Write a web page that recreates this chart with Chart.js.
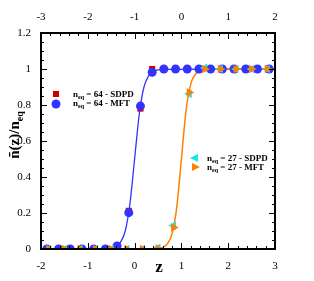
<!DOCTYPE html>
<html>
<head>
<meta charset="utf-8">
<script src="https://cdn.jsdelivr.net/npm/chart.js@4/dist/chart.umd.min.js"></script>
<style>
  html, body { margin: 0; padding: 0; background: #ffffff; }
  #wrap { width: 314px; height: 281px; }
</style>
</head>
<body>
<div id="wrap"><canvas id="chart" width="314" height="281"></canvas></div>
<script>

// n_eq = 64 samples (spacing 1/4)
const z64 = [-1.875, -1.625, -1.375, -1.125, -0.875, -0.625, -0.375, -0.125, 0.125, 0.375,
             0.625, 0.875, 1.125, 1.375, 1.625, 1.875, 2.125, 2.375, 2.625, 2.875];
const sdpd64 = [0, 0, 0, 0, 0, 0, 0.008, 0.212, 0.78, 1.0,
                1, 1, 1, 1, 1, 1, 1, 1, 1, 1];
const mft64 = [0, 0, 0, 0, 0, 0, 0.017, 0.202, 0.794, 0.982,
               1, 1, 1, 1, 1, 1, 1, 1, 1, 1];

// n_eq = 27 samples (spacing 1/3)
const z27 = [-1.833, -1.5, -1.167, -0.833, -0.5, -0.167, 0.167, 0.5, 0.833, 1.167,
             1.5, 1.833, 2.167, 2.5, 2.833];
const sdpd27 = [0, 0, 0, 0, 0, 0, 0, 0.006, 0.13, 0.862, 1.006, 1, 1, 1, 1];
const mft27 = [0, 0, 0, 0, 0, 0, 0, 0.003, 0.12, 0.87, 1, 1, 1, 1, 1];

// fitted profiles
const curve64X = [-2, -0.6, -0.5, -0.4, -0.3, -0.2, -0.1, 0, 0.1, 0.2, 0.3, 0.4, 0.5, 0.6, 3];
const curve64Y = [0, 0.002, 0.005, 0.013, 0.038, 0.1, 0.25, 0.5, 0.75, 0.9, 0.962, 0.987, 0.995, 0.998, 1];
const curve27X = [-2, 0.4, 0.5, 0.6, 0.7, 0.8, 0.9, 1.0, 1.1, 1.2, 1.3, 1.4, 1.5, 3];
const curve27Y = [0, 0.001, 0.003, 0.009, 0.029, 0.084, 0.23, 0.5, 0.77, 0.916, 0.971, 0.991, 0.997, 1];

const legendLabels = ["64 - SDPD", "64 - MFT", "27 - SDPD", "27 - MFT"];

const BLUE = "#3333ff";
const RED = "#cc0000";
const ORANGE = "#ff8000";
const CYAN = "#22e0e8";
const SERIF = "'Liberation Serif', 'DejaVu Serif', serif";

function pts(xs, ys) {
    return xs.map((x, i) => ({ x: x, y: ys[i] }));
}

function isMajor(v, step) {
    const r = v / step;
    return Math.abs(r - Math.round(r)) < 1e-6;
}

// inward tick marks, frame, titles and legends
const decorations = {
    id: "decorations",
    afterDatasetsDraw(chart) {
        const ctx = chart.ctx;
        const a = chart.chartArea;
        const xb = chart.scales.x;
        const xt = chart.scales.xTop;
        const y = chart.scales.y;

        ctx.save();
        ctx.strokeStyle = "#000000";
        ctx.lineWidth = 1;

        xb.ticks.forEach(t => {
            const px = Math.round(xb.getPixelForValue(t.value)) + 0.5;
            const len = isMajor(t.value, 1) ? 6 : 3;
            ctx.beginPath();
            ctx.moveTo(px, a.bottom);
            ctx.lineTo(px, a.bottom - len);
            ctx.stroke();
        });
        xt.ticks.forEach(t => {
            const px = Math.round(xt.getPixelForValue(t.value)) + 0.5;
            const len = isMajor(t.value, 1) ? 6 : 3;
            ctx.beginPath();
            ctx.moveTo(px, a.top);
            ctx.lineTo(px, a.top + len);
            ctx.stroke();
        });
        y.ticks.forEach(t => {
            const py = Math.round(y.getPixelForValue(t.value)) + 0.5;
            const len = isMajor(t.value, 0.2) ? 6 : 3;
            ctx.beginPath();
            ctx.moveTo(a.left, py);
            ctx.lineTo(a.left + len, py);
            ctx.moveTo(a.right, py);
            ctx.lineTo(a.right - len, py);
            ctx.stroke();
        });

        ctx.lineWidth = 2;
        ctx.strokeRect(a.left, a.top, a.right - a.left, a.bottom - a.top);

        // axis titles
        ctx.fillStyle = "#000000";
        ctx.font = "bold 17px " + SERIF;
        ctx.textAlign = "center";
        ctx.textBaseline = "middle";
        ctx.fillText("z", 159, 268);

        ctx.save();
        ctx.translate(14, 135);
        ctx.rotate(-Math.PI / 2);
        const main = "ñ(z)/n";
        ctx.font = "bold 15px " + SERIF;
        const w1 = ctx.measureText(main).width;
        ctx.font = "bold 10px " + SERIF;
        const w2 = ctx.measureText("eq").width;
        const start = -(w1 + w2) / 2;
        ctx.textAlign = "left";
        ctx.textBaseline = "alphabetic";
        ctx.font = "bold 15px " + SERIF;
        ctx.fillText(main, start, 5);
        ctx.font = "bold 10px " + SERIF;
        ctx.fillText("eq", start + w1, 9);
        ctx.restore();

        // legends
        function legendText(label, x, yy) {
            ctx.textAlign = "left";
            ctx.textBaseline = "alphabetic";
            ctx.font = "bold 9px " + SERIF;
            ctx.fillText("n", x, yy + 3);
            const wn = ctx.measureText("n").width;
            ctx.font = "bold 6px " + SERIF;
            ctx.fillText("eq", x + wn, yy + 5);
            const we = ctx.measureText("eq").width;
            ctx.font = "bold 9px " + SERIF;
            ctx.fillText(" = " + label, x + wn + we, yy + 3);
        }
        function tri(cx, cy, r, dir, color) {
            ctx.fillStyle = color;
            ctx.beginPath();
            ctx.moveTo(cx + dir * r, cy);
            ctx.lineTo(cx - dir * r * 0.6, cy - r * 0.8);
            ctx.lineTo(cx - dir * r * 0.6, cy + r * 0.8);
            ctx.closePath();
            ctx.fill();
        }

        ctx.fillStyle = RED;
        ctx.fillRect(53, 91, 6, 6);
        ctx.fillStyle = BLUE;
        ctx.beginPath();
        ctx.arc(56, 104, 4.5, 0, Math.PI * 2);
        ctx.fill();
        ctx.fillStyle = "#000000";
        legendText(legendLabels[0], 73, 94);
        legendText(legendLabels[1], 73, 103);

        tri(195, 158, 5, -1, CYAN);
        tri(195, 167, 5, 1, ORANGE);
        ctx.fillStyle = "#000000";
        legendText(legendLabels[2], 207, 158);
        legendText(legendLabels[3], 207, 167);

        ctx.restore();
    }
};

const tickFont = { family: SERIF, size: 11 };

new Chart(document.getElementById("chart"), {
    type: "scatter",
    data: {
        datasets: [
            {
                label: "n_eq = 27 - MFT",
                data: pts(z27, mft27),
                pointStyle: "triangle",
                rotation: 90,
                pointRadius: 5,
                backgroundColor: ORANGE,
                borderWidth: 0,
                order: 1
            },
            {
                label: "n_eq = 27 - SDPD",
                data: pts(z27, sdpd27),
                pointStyle: "triangle",
                rotation: -90,
                pointRadius: 5,
                backgroundColor: CYAN,
                borderWidth: 0,
                order: 2
            },
            {
                label: "n_eq = 64 - MFT",
                data: pts(z64, mft64),
                pointStyle: "circle",
                pointRadius: 4.5,
                backgroundColor: BLUE,
                borderWidth: 0,
                order: 3
            },
            {
                label: "n_eq = 64 - SDPD",
                data: pts(z64, sdpd64),
                pointStyle: "rect",
                pointRadius: 4.3,
                backgroundColor: RED,
                borderWidth: 0,
                order: 4
            },
            {
                label: "fit 27",
                data: pts(curve27X, curve27Y),
                showLine: true,
                pointRadius: 0,
                borderColor: ORANGE,
                borderWidth: 1.5,
                cubicInterpolationMode: "monotone",
                order: 5
            },
            {
                label: "fit 64",
                data: pts(curve64X, curve64Y),
                showLine: true,
                pointRadius: 0,
                borderColor: BLUE,
                borderWidth: 1.3,
                cubicInterpolationMode: "monotone",
                order: 6
            }
        ]
    },
    options: {
        responsive: false,
        animation: false,
        devicePixelRatio: 1,
        layout: { padding: 0 },
        plugins: {
            legend: { display: false },
            tooltip: { enabled: false }
        },
        elements: { point: { hoverRadius: 0 } },
        scales: {
            x: {
                type: "linear",
                position: "bottom",
                min: -2,
                max: 3,
                grid: { display: false },
                border: { display: false },
                ticks: {
                    stepSize: 0.2,
                    autoSkip: false,
                    maxRotation: 0,
                    padding: 3,
                    color: "#000000",
                    font: tickFont,
                    callback: v => isMajor(v, 1) ? String(Math.round(v)) : ""
                },
                afterFit: s => { s.height = 32; }
            },
            xTop: {
                type: "linear",
                axis: "x",
                position: "top",
                min: -3,
                max: 2,
                grid: { display: false },
                border: { display: false },
                ticks: {
                    stepSize: 0.2,
                    autoSkip: false,
                    maxRotation: 0,
                    padding: 1,
                    color: "#000000",
                    font: tickFont,
                    callback: v => isMajor(v, 1) ? String(Math.round(v)) : ""
                },
                afterFit: s => { s.height = 33; }
            },
            y: {
                type: "linear",
                position: "left",
                min: 0,
                max: 1.2,
                grid: { display: false },
                border: { display: false },
                ticks: {
                    stepSize: 0.05,
                    autoSkip: false,
                    padding: 2,
                    color: "#000000",
                    font: tickFont,
                    callback: v => isMajor(v, 0.2) ? String(Math.round(v * 10) / 10) : ""
                },
                afterFit: s => { s.width = 41; }
            },
            yRight: {
                type: "linear",
                axis: "y",
                position: "right",
                min: 0,
                max: 1.2,
                grid: { display: false },
                border: { display: false },
                ticks: { display: false },
                afterFit: s => { s.width = 39; }
            }
        }
    },
    plugins: [decorations]
});

</script>
</body>
</html>
